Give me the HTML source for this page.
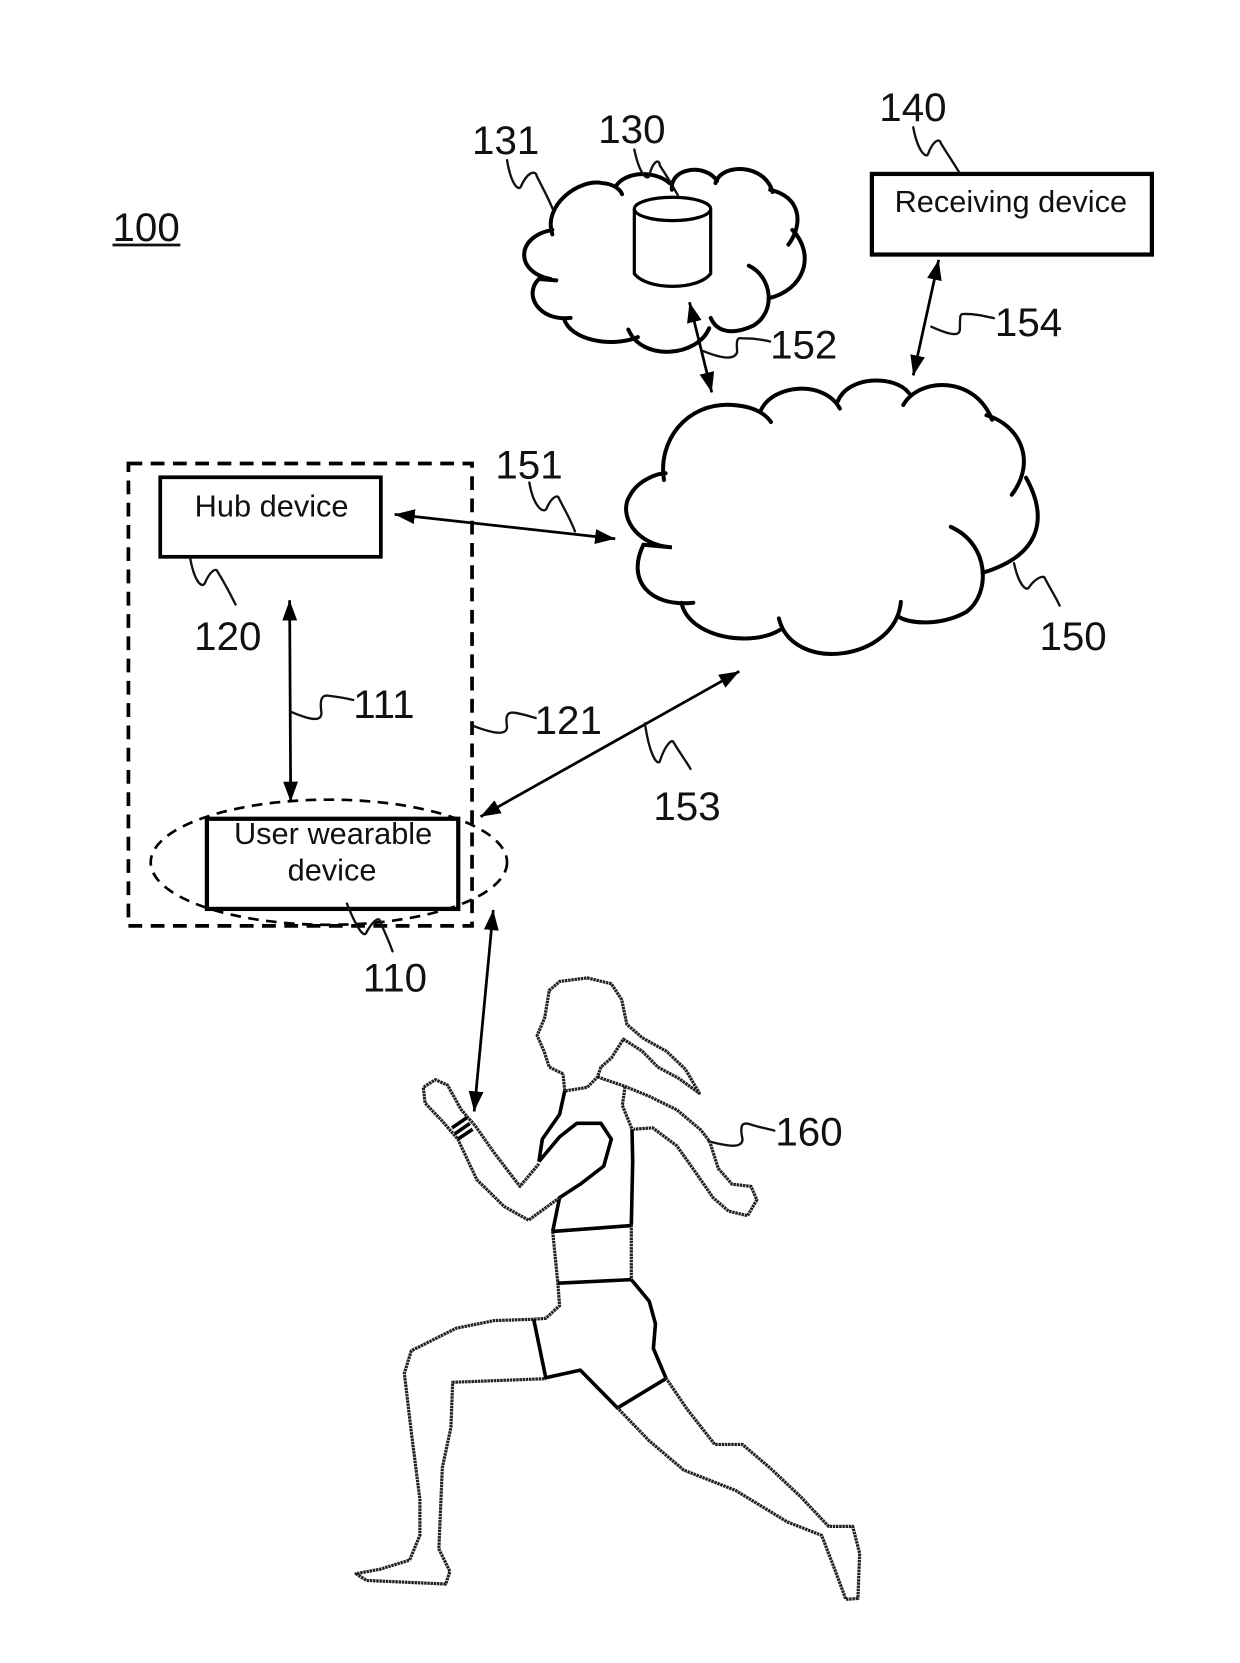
<!DOCTYPE html>
<html><head><meta charset="utf-8"><style>
html,body{margin:0;padding:0;background:#fff}
svg{display:block}
text{font-family:"Liberation Sans",sans-serif;fill:#111}
.n{font-size:38px}
.l{font-size:29px;text-anchor:middle}
.c path{fill:none;stroke:#000;stroke-width:4;vector-effect:non-scaling-stroke;stroke-linecap:round}
.w{fill:none;stroke:#111;stroke-width:2.2;stroke-linecap:round}
.a{stroke:#000;stroke-width:2.6;marker-start:url(#h);marker-end:url(#h)}
.p polyline{fill:none;stroke:#222;stroke-width:3.2;stroke-dasharray:2.5 .7;vector-effect:non-scaling-stroke;stroke-linejoin:round}
.p .t{stroke:#000;stroke-width:3.6;stroke-dasharray:none}
</style></head><body>
<svg xmlns="http://www.w3.org/2000/svg" width="1240" height="1663" viewBox="0 0 1169 1568">
<defs><marker id="h" markerUnits="userSpaceOnUse" markerWidth="20" markerHeight="16" refX="19" refY="7" orient="auto-start-reverse"><path d="M0,0L19,7L0,14Z" fill="#000"/></marker></defs>
<rect width="1169" height="1568" fill="#fff"/>
<g class="c" transform="scale(.747,.421)">
<path d="M697,525C685,460 730,400 760,410C775,412 783,425 785,435M778,415C790,385 825,380 845,410M848,425C845,375 890,365 905,405M903,410C910,365 965,365 975,430M972,425C1010,440 1015,500 995,548M1000,515C1030,570 1015,650 970,668M945,595C975,620 980,700 950,730C925,750 905,745 897,712M895,735C880,800 810,810 793,738M805,755C770,780 720,760 712,715M720,712C680,720 660,660 680,625L702,628M695,625C650,610 650,530 697,515"/>
<path d="M838,1075C830,990 865,900 925,907C950,910 965,925 973,945M960,920C975,860 1040,850 1060,915M1057,900C1070,840 1130,840 1147,880M1140,907C1160,845 1230,840 1252,940M1245,930C1285,950 1310,1030 1277,1108M1295,1070C1320,1150 1320,1240 1240,1283M1200,1180C1250,1220 1250,1330 1220,1370C1190,1400 1150,1400 1133,1380M1137,1348C1130,1480 1000,1510 983,1385M985,1410C950,1450 870,1430 860,1350M875,1350C820,1360 790,1300 812,1220L848,1226C800,1220 780,1150 795,1110C805,1075 830,1060 840,1060"/>
</g>
<path d="M598,197V258C610,274 658,274 670,258V197" fill="none" stroke="#000" stroke-width="3"/>
<ellipse cx="634" cy="197" rx="36" ry="11" fill="#fff" stroke="#000" stroke-width="3"/>
<rect x="822" y="164" width="264" height="76" fill="#fff" stroke="#000" stroke-width="4"/>
<rect x="151" y="450" width="208" height="75" fill="#fff" stroke="#000" stroke-width="3.5"/>
<rect x="121" y="437" width="324" height="436" fill="none" stroke="#000" stroke-width="3.5" stroke-dasharray="13 8"/>
<ellipse cx="310" cy="813" rx="168" ry="59" fill="none" stroke="#000" stroke-width="2.5" stroke-dasharray="10 7"/>
<rect x="195" y="772" width="237" height="85" fill="none" stroke="#000" stroke-width="4"/>
<line class="a" x1="372" y1="485" x2="580" y2="508"/>
<line class="a" x1="273" y1="566" x2="274" y2="756"/>
<line class="a" x1="453" y1="770" x2="697" y2="633"/>
<line class="a" x1="650" y1="285" x2="671" y2="370"/>
<line class="a" x1="885" y1="245" x2="861" y2="354"/>
<line class="a" x1="465" y1="858" x2="447" y2="1048"/>
<g class="w">
<path d="M598,141C603,165 610,170 612,166C616,150 622,150 622,156C628,165 634,175 639,184"/>
<path d="M478,151C482,175 489,180 491,176C497,162 505,160 506,166C512,178 517,187 521,197"/>
<path d="M861,120C865,142 873,150 875,145C880,132 886,130 887,135C893,145 898,152 904,162"/>
<path d="M878,308C900,318 905,316 905,310C905,296 905,296 910,296C920,296 928,298 937,300"/>
<path d="M663,331C685,340 693,338 695,332C694,320 695,318 700,319C710,319 718,320 726,322"/>
<path d="M499,455C503,478 512,484 515,480C520,468 526,466 527,470C533,482 538,490 542,501"/>
<path d="M179,525C183,548 190,555 193,550C198,538 204,535 205,539C212,550 217,560 222,570"/>
<path d="M956,531C960,550 967,558 970,554C976,545 984,542 985,545C990,555 995,562 999,571"/>
<path d="M274,671C295,680 303,680 303,672C301,658 304,655 310,656C318,657 325,658 333,660"/>
<path d="M445,684C468,693 478,693 478,685C476,674 479,671 485,672C492,673 498,675 505,677"/>
<path d="M608,682C612,710 619,722 622,718C627,702 634,696 635,700C641,710 647,718 651,725"/>
<path d="M327,852C335,872 342,884 345,880C350,870 357,864 358,868C363,880 367,888 370,897"/>
<path d="M668,1076C690,1082 700,1082 700,1074C697,1060 700,1058 707,1060C716,1063 723,1064 730,1066"/>
</g>
<g class="p" transform="translate(319.4,904.2) scale(.3252,.4246)">
<polyline points="650,255 610,240 595,205 575,170 597,130 610,70 640,50 720,42 790,55 820,90 835,145 880,175 950,205 1005,245 1045,298 985,265 925,240 880,205 825,178 790,220 760,240 750,262 720,285 655,293 650,255"/>
<polyline class="t" points="655,293 640,345 590,400 580,450"/>
<polyline points="750,262 830,283 900,305 980,335 1050,380 1075,405 1100,465 1140,500 1195,505 1212,535 1185,570 1130,560 1085,530 1040,480 980,415 910,375 855,378"/>
<polyline points="830,283 822,325 850,378"/>
<polyline class="t" points="850,378 852,450 848,590"/>
<polyline points="848,590 848,712"/>
<polyline class="t" points="580,450 640,395 690,365 760,365 790,400 768,460 700,500 640,530 620,605"/>
<polyline points="620,605 635,720 640,770 600,798 565,800 450,803 340,820 210,870 190,920 210,1050 235,1200 235,1280 205,1335 120,1355 50,1365 80,1380 310,1388 322,1360 290,1310 300,1130 325,1040 330,940 600,932"/>
<polyline points="640,530 550,580 480,550 400,490 345,400 300,360 250,320 245,285 280,268 315,280 355,335 395,370 450,430 525,505 580,455"/>
<polyline class="t" points="328,375 372,352"/>
<polyline class="t" points="337,388 380,365"/>
<polyline class="t" points="345,400 388,378"/>
<polyline class="t" points="620,605 848,592"/>
<polyline class="t" points="635,720 848,712"/>
<polyline class="t" points="848,712 900,760 918,810 912,865 948,930"/>
<polyline class="t" points="565,800 600,930 700,913 808,997 948,932"/>
<polyline points="948,930 1010,1000 1090,1078 1170,1078 1250,1130 1340,1195 1420,1260 1490,1260 1510,1320 1505,1420 1470,1422 1440,1360 1400,1280 1300,1250 1150,1180 1000,1135 900,1070 808,997"/>
</g>
<text class="n" x="106" y="227">100</text><line x1="106" y1="231" x2="170" y2="231" stroke="#111" stroke-width="2.5"/>
<text class="n" x="445" y="145">131</text>
<text class="n" x="564" y="135">130</text>
<text class="n" x="829" y="114">140</text>
<text class="n" x="726" y="338">152</text>
<text class="n" x="938" y="317">154</text>
<text class="n" x="467" y="451">151</text>
<text class="n" x="183" y="613">120</text>
<text class="n" x="980" y="613">150</text>
<text class="n" x="333" y="677">111</text>
<text class="n" x="504" y="692">121</text>
<text class="n" x="616" y="773">153</text>
<text class="n" x="342" y="935">110</text>
<text class="n" x="731" y="1080">160</text>
<text class="l" x="953" y="200">Receiving device</text>
<text class="l" x="256" y="487">Hub device</text>
<text class="l" x="314" y="796">User wearable</text>
<text class="l" x="313" y="830">device</text>
</svg>
</body></html>
